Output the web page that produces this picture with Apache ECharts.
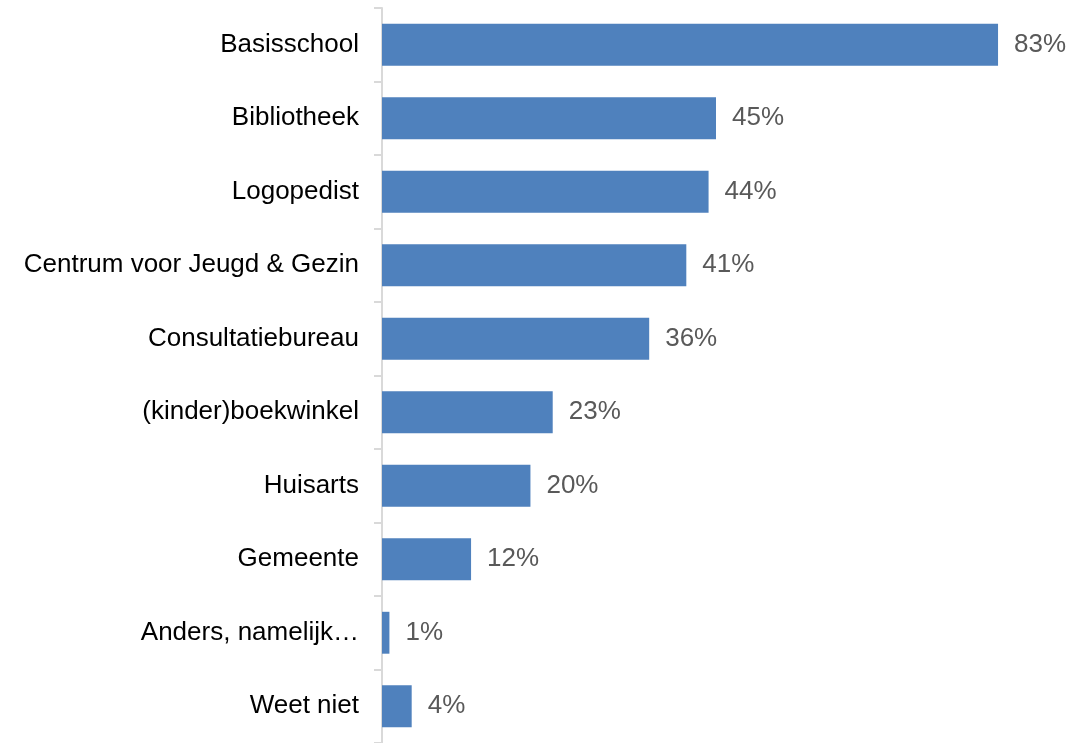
<!DOCTYPE html>
<html>
<head>
<meta charset="utf-8">
<script src="https://cdn.jsdelivr.net/npm/echarts@6/dist/echarts.min.js"></script>
<style>
  html, body { margin: 0; padding: 0; background: #fff; }
  #chart { width: 1072px; height: 743px; }
</style>
</head>
<body>
<div id="chart"></div>
<script>
// categories top to bottom, as in the picture
const categories = [
  'Basisschool',
  'Bibliotheek',
  'Logopedist',
  'Centrum voor Jeugd & Gezin',
  'Consultatiebureau',
  '(kinder)boekwinkel',
  'Huisarts',
  'Gemeente',
  'Anders, namelijk…',
  'Weet niet'
]
const percentages = [83, 45, 44, 41, 36, 23, 20, 12, 1, 4]

const chart = echarts.init(document.getElementById('chart'), null, { renderer: 'canvas' })

const option = {
  animation: false,
  grid: {
    left: 382,
    right: 22,
    top: 8,
    height: 739
  },
  xAxis: {
    type: 'value',
    min: 0,
    max: 90,
    show: false
  },
  yAxis: {
    type: 'category',
    inverse: true, // first category on top
    data: categories,
    axisLine: { show: true, lineStyle: { color: '#d9d9d9', width: 2 } },
    axisTick: { show: true, length: 8, lineStyle: { color: '#d9d9d9', width: 2 } },
    axisLabel: {
      margin: 23,
      color: '#000',
      fontSize: 26,
      fontFamily: 'Liberation Sans, Arial, sans-serif'
    },
    splitLine: { show: false }
  },
  series: [
    {
      type: 'bar',
      data: percentages,
      barCategoryGap: '43%',
      itemStyle: { color: '#4f81bd' },
      label: {
        show: true,
        position: 'right',
        distance: 16,
        formatter: '{c}%',
        color: '#595959',
        fontSize: 26,
        fontFamily: 'Liberation Sans, Arial, sans-serif'
      }
    }
  ]
}
chart.setOption(option)
</script>
</body>
</html>
